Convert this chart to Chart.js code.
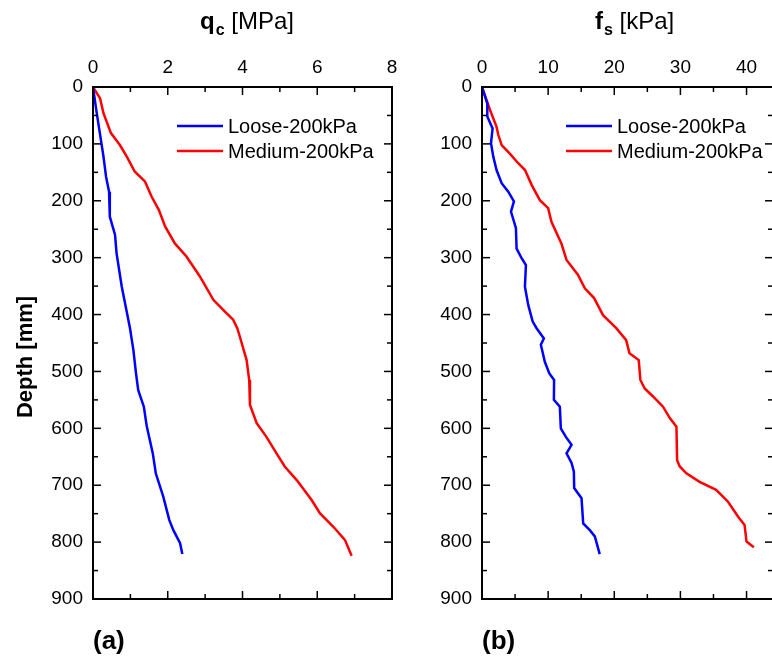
<!DOCTYPE html>
<html>
<head>
<meta charset="utf-8">
<script src="https://cdn.jsdelivr.net/npm/chart.js@4.4.1/dist/chart.umd.min.js"></script>
<style>
  html, body { margin: 0; padding: 0; background: #fff; overflow: hidden; }
  body { width: 772px; height: 662px; position: relative; }
  canvas { position: absolute; top: 0; }
</style>
</head>
<body>
<canvas id="chartA" width="410" height="662" style="left:0"></canvas>
<canvas id="chartB" width="395" height="662" style="left:395px"></canvas>
<script>
// series labels
const seriesNames = ['Loose-200kPa', 'Medium-200kPa'];

// (a) cone resistance qc [MPa] vs depth [mm]
const qcLooseDepth = [0, 46, 122, 158, 184, 228, 260, 292, 351, 424, 462, 503, 533, 562, 597, 644, 679, 720, 761, 779, 802, 821];
const qcLoose = [0, 0.10, 0.28, 0.35, 0.43, 0.45, 0.59, 0.63, 0.77, 0.99, 1.08, 1.15, 1.21, 1.36, 1.44, 1.60, 1.68, 1.88, 2.04, 2.15, 2.33, 2.39];
const qcMediumDepth = [0, 20, 46, 81, 102, 122, 149, 166, 193, 216, 245, 275, 298, 333, 374, 395, 409, 424, 439, 480, 515, 559, 591, 615, 644, 667, 691, 726, 749, 773, 796, 824];
const qcMedium = [0, 0.19, 0.28, 0.48, 0.72, 0.90, 1.12, 1.39, 1.57, 1.76, 1.93, 2.19, 2.50, 2.86, 3.22, 3.53, 3.75, 3.86, 3.93, 4.11, 4.18, 4.20, 4.38, 4.64, 4.91, 5.13, 5.45, 5.85, 6.07, 6.43, 6.74, 6.92];

// (b) sleeve friction fs [kPa] vs depth [mm]
const fsLooseDepth = [0, 29, 52, 73, 99, 122, 146, 169, 184, 201, 219, 248, 284, 301, 313, 351, 383, 412, 424, 442, 453, 483, 503, 515, 550, 562, 600, 615, 629, 644, 661, 676, 705, 723, 767, 779, 790, 821];
const fsLoose = [0, 0.8, 0.8, 1.6, 1.36, 1.7, 2.2, 2.97, 3.97, 4.83, 4.38, 5.13, 5.23, 5.99, 6.64, 6.49, 6.99, 7.65, 8.25, 9.36, 8.9, 9.5, 10.16, 10.9, 10.87, 11.77, 11.92, 12.68, 13.54, 12.78, 13.54, 13.89, 13.94, 15.05, 15.3, 16.3, 17.06, 17.8];
const fsMediumDepth = [0, 40, 70, 84, 102, 117, 134, 146, 172, 199, 213, 237, 275, 304, 330, 354, 371, 401, 424, 445, 468, 480, 515, 530, 544, 562, 582, 597, 656, 667, 679, 694, 708, 729, 755, 770, 799, 809];
const fsMedium = [0, 1.2, 2.2, 2.46, 2.97, 4.2, 5.48, 6.5, 7.5, 8.75, 10.0, 10.5, 12.0, 12.78, 14.5, 15.55, 16.95, 18.3, 20.3, 21.8, 22.3, 23.7, 23.95, 24.6, 25.86, 27.37, 28.4, 29.4, 29.5, 29.9, 30.9, 32.9, 35.4, 37.2, 38.7, 39.7, 40.0, 41.1];

// axis ticks
const depthTicks = { min: 0, max: 900, step: 100 };
const qcTicks = { min: 0, max: 8, step: 2 };
const fsTicks = { min: 0, max: 44, step: 10 };

const FONT = "'Liberation Sans', Arial, sans-serif";
Chart.defaults.font.family = FONT;
Chart.defaults.color = '#000';

function pairs(xs, ys) {
  return xs.map((v, i) => ({ x: v, y: ys[i] }));
}

// frame, inward ticks, titles, legend, labels
const decorPlugin = {
  id: 'decor',
  afterDraw(chart, args, o) {
    const { ctx, chartArea: a, scales: { x, y } } = chart;
    ctx.save();
    ctx.strokeStyle = '#000';
    const seg = (x1, y1, x2, y2) => { ctx.beginPath(); ctx.moveTo(x1, y1); ctx.lineTo(x2, y2); ctx.stroke(); };

    ctx.lineWidth = 1.5;
    const xStep = o.xStep / 2;
    for (let i = 0; x.min + i * xStep <= x.max + 1e-9; i++) {
      const px = x.getPixelForValue(x.min + i * xStep);
      const len = i % 2 === 0 ? 8 : 5;
      seg(px, a.top, px, a.top + len);
      seg(px, a.bottom, px, a.bottom - len);
    }
    for (let i = 0; i * 50 <= 900; i++) {
      const py = y.getPixelForValue(i * 50);
      const len = i % 2 === 0 ? 8 : 5;
      seg(a.left, py, a.left + len, py);
      seg(a.right, py, a.right - len, py);
    }
    ctx.lineWidth = 2;
    ctx.strokeRect(a.left, a.top, a.right - a.left, a.bottom - a.top);

    // title with subscript
    ctx.fillStyle = '#000';
    ctx.textBaseline = 'alphabetic';
    ctx.textAlign = 'left';
    let tx = a.left + o.titleX;
    ctx.font = 'bold 24px ' + FONT;
    ctx.fillText(o.sym, tx, 29);
    tx += ctx.measureText(o.sym).width + 1;
    ctx.font = 'bold 16px ' + FONT;
    ctx.fillText(o.sub, tx, 35);
    tx += ctx.measureText(o.sub).width;
    ctx.font = '24px ' + FONT;
    ctx.fillText(' ' + o.unit, tx, 29);

    // legend
    chart.data.datasets.forEach((ds, i) => {
      const ly = 126 + i * 25;
      ctx.strokeStyle = ds.borderColor;
      ctx.lineWidth = 2.5;
      seg(a.left + 84, ly, a.left + 130, ly);
      ctx.font = '20px ' + FONT;
      ctx.fillText(ds.label, a.left + 135, ly + 7);
    });

    // panel letter
    ctx.font = 'bold 26px ' + FONT;
    ctx.textBaseline = 'middle';
    ctx.fillText(o.letter, a.left, 642);

    if (o.depthLabel) {
      ctx.translate(26, 357);
      ctx.rotate(-Math.PI / 2);
      ctx.textAlign = 'center';
      ctx.font = 'bold 22px ' + FONT;
      ctx.fillText('Depth [mm]', 0, 0);
    }
    ctx.restore();
  }
};

function makeChart(id, loose, medium, xt, yWidth, rightPad, decor) {
  return new Chart(document.getElementById(id), {
    type: 'scatter',
    data: {
      datasets: [
        { label: seriesNames[0], data: loose, borderColor: '#0000ff', backgroundColor: '#0000ff' },
        { label: seriesNames[1], data: medium, borderColor: '#ff0000', backgroundColor: '#ff0000' }
      ]
    },
    options: {
      responsive: false,
      animation: false,
      showLine: true,
      elements: { point: { radius: 0 }, line: { borderWidth: 2.5 } },
      layout: { autoPadding: false, padding: { left: 0, top: 0, right: rightPad, bottom: 63 } },
      plugins: { legend: { display: false }, tooltip: { enabled: false }, decor },
      scales: {
        x: {
          type: 'linear', position: 'top', min: xt.min, max: xt.max,
          grid: { display: false, drawTicks: false }, border: { display: false },
          ticks: { stepSize: xt.step, includeBounds: false, padding: 8, font: { size: 19 }, color: '#000' },
          afterFit(s) { s.height = 87; s.paddingLeft = 0; s.paddingRight = 0; }
        },
        y: {
          type: 'linear', position: 'left', reverse: true, min: depthTicks.min, max: depthTicks.max,
          grid: { display: false, drawTicks: false }, border: { display: false },
          ticks: { stepSize: depthTicks.step, padding: 10, font: { size: 19 }, color: '#000' },
          afterFit(s) { s.width = yWidth; s.paddingTop = 0; s.paddingBottom = 0; }
        }
      }
    },
    plugins: [decorPlugin]
  });
}

makeChart('chartA', pairs(qcLoose, qcLooseDepth), pairs(qcMedium, qcMediumDepth), qcTicks, 93, 18,
  { xStep: qcTicks.step, sym: 'q', sub: 'c', unit: '[MPa]', titleX: 107, letter: '(a)', depthLabel: true });
makeChart('chartB', pairs(fsLoose, fsLooseDepth), pairs(fsMedium, fsMediumDepth), fsTicks, 87, 17,
  { xStep: fsTicks.step, sym: 'f', sub: 's', unit: '[kPa]', titleX: 113, letter: '(b)', depthLabel: false });
</script>
</body>
</html>
